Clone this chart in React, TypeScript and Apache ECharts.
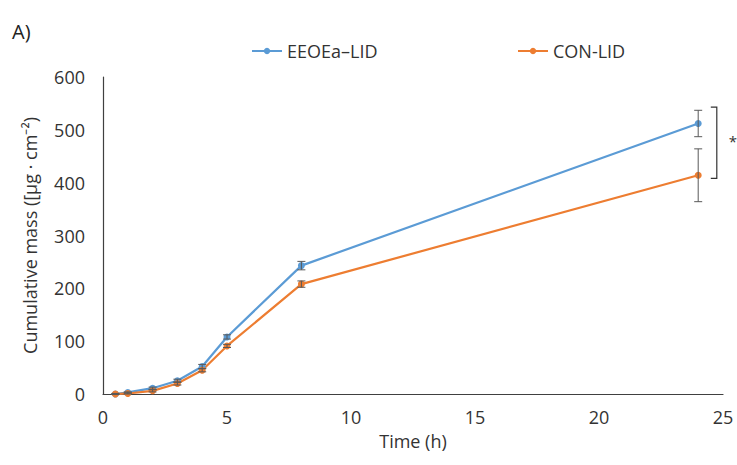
import React, { useEffect, useRef } from "react";
import * as echarts from "echarts";

const times = [0.5, 1, 2, 3, 4, 5, 8, 24];
const eeoeaValues = [0, 3, 11, 25, 52, 108, 243, 512];
const eeoeaErrors = [1, 1, 2, 3, 4, 4, 8, 25];
const conValues = [0, 1, 6, 20, 45, 91, 208, 414];
const conErrors = [1, 1, 2, 3, 3, 3, 6, 50];
const xTicks = [0, 5, 10, 15, 20, 25];
const yTicks = [0, 100, 200, 300, 400, 500, 600];
const bracket = { x: 24.75, top: 543, bottom: 408, label: "*" };

const BLUE = "#5B9BD5";
const ORANGE = "#ED7D31";
const FONT = "Open Sans";
const TEXT = "#333";

function errData(vals: number[], errs: number[]) {
  return times.map((t, i) => [t, vals[i] - errs[i], vals[i] + errs[i]]);
}

function errorRender(params: any, api: any) {
  const x = api.value(0);
  const lo = api.coord([x, api.value(1)]);
  const hi = api.coord([x, api.value(2)]);
  const cap = 4;
  const style = { stroke: "#595959", lineWidth: 1 };
  return {
    type: "group",
    children: [
      { type: "line", shape: { x1: lo[0], y1: lo[1], x2: hi[0], y2: hi[1] }, style },
      { type: "line", shape: { x1: lo[0] - cap, y1: lo[1], x2: lo[0] + cap, y2: lo[1] }, style },
      { type: "line", shape: { x1: hi[0] - cap, y1: hi[1], x2: hi[0] + cap, y2: hi[1] }, style },
    ],
  };
}

export default function App() {
  const ref = useRef<HTMLDivElement>(null);
  useEffect(() => {
    const chart = echarts.init(ref.current!, undefined, { renderer: "svg" });
    const legendText = { fontSize: 18, color: TEXT, fontFamily: FONT };
    chart.setOption({
      animation: false,
      backgroundColor: "#fff",
      textStyle: { fontFamily: FONT },
      graphic: [
        { type: "text", left: 12, top: 21, style: { text: "A)", fontSize: 20, fill: "#222", fontFamily: FONT } },
      ],
      legend: [
        {
          data: ["EEOEa–LID"],
          left: 246,
          top: 37,
          itemWidth: 30,
          itemHeight: 8,
          itemGap: 3,
          textStyle: legendText,
        },
        {
          data: ["CON-LID"],
          left: 512,
          top: 37,
          itemWidth: 30,
          itemHeight: 8,
          textStyle: legendText,
        },
      ],
      grid: { left: 103, right: 14, top: 77, bottom: 71, containLabel: false },
      xAxis: {
        type: "value",
        min: 0,
        max: 25,
        interval: 5,
        name: "Time (h)",
        nameLocation: "middle",
        nameGap: 38,
        nameTextStyle: { fontSize: 18, color: TEXT },
        axisLine: { lineStyle: { color: "#404040", width: 1.2 } },
        axisTick: { show: false },
        splitLine: { show: false },
        axisLabel: { fontSize: 18, color: TEXT, margin: 14 },
      },
      yAxis: {
        type: "value",
        min: 0,
        max: 600,
        interval: 100,
        name: "Cumulative mass ([µg · cm⁻²)",
        nameLocation: "middle",
        nameGap: 64,
        nameTextStyle: { fontSize: 18, color: TEXT },
        axisLine: { show: true, lineStyle: { color: "#404040", width: 1.2 } },
        axisTick: { show: false },
        splitLine: { show: false },
        axisLabel: { fontSize: 18, color: TEXT, margin: 18 },
      },
      series: [
        {
          name: "EEOEa–LID",
          type: "line",
          data: times.map((t, i) => [t, eeoeaValues[i]]),
          color: BLUE,
          symbol: "circle",
          symbolSize: 7,
          lineStyle: { width: 2.2 },
          z: 3,
        },
        {
          name: "CON-LID",
          type: "line",
          data: times.map((t, i) => [t, conValues[i]]),
          color: ORANGE,
          symbol: "circle",
          symbolSize: 7,
          lineStyle: { width: 2.2 },
          z: 3,
        },
        {
          name: "errEEOEa",
          type: "custom",
          renderItem: errorRender,
          data: errData(eeoeaValues, eeoeaErrors),
          z: 4,
          silent: true,
        },
        {
          name: "errCON",
          type: "custom",
          renderItem: errorRender,
          data: errData(conValues, conErrors),
          z: 4,
          silent: true,
        },
        {
          name: "bracket",
          type: "custom",
          silent: true,
          data: [[bracket.x, bracket.top, bracket.bottom]],
          renderItem: (params: any, api: any) => {
            const top = api.coord([api.value(0), api.value(1)]);
            const bot = api.coord([api.value(0), api.value(2)]);
            const style = { stroke: "#333", lineWidth: 1.2, fill: null };
            return {
              type: "group",
              children: [
                {
                  type: "polyline",
                  shape: {
                    points: [
                      [top[0] - 6, top[1]],
                      [top[0], top[1]],
                      [bot[0], bot[1]],
                      [bot[0] - 6, bot[1]],
                    ],
                  },
                  style,
                },
                {
                  type: "text",
                  style: {
                    text: bracket.label,
                    x: top[0] + 16,
                    y: (top[1] + bot[1]) / 2 - 2,
                    align: "center",
                    verticalAlign: "middle",
                    fontSize: 15,
                    fill: "#333",
                    fontFamily: FONT,
                  },
                },
              ],
            };
          },
          clip: false,
        },
      ],
    });
    return () => chart.dispose();
  }, []);
  return <div ref={ref} style={{ width: 737, height: 465, position: "absolute", left: 0, top: 0 }} />;
}
